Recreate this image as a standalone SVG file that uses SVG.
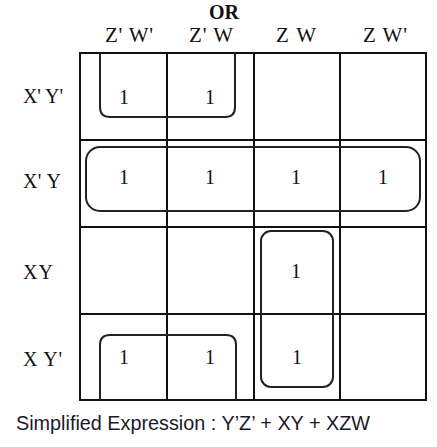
<svg xmlns="http://www.w3.org/2000/svg" width="437" height="447" viewBox="0 0 437 447">
<style>
.g{stroke:#111;stroke-width:2;fill:none}
.loop{stroke:#222;stroke-width:2;fill:none}
.h{font-family:"Liberation Serif",serif;font-size:21px;fill:#111;text-anchor:middle}
.r{font-family:"Liberation Serif",serif;font-size:20px;fill:#111}
.one{font-family:"Liberation Serif",serif;font-size:20px;fill:#111;text-anchor:middle}
</style>
<rect width="437" height="447" fill="#fff"/>
<g id="headers">
<text x="224" y="19" font-family="Liberation Serif,serif" font-weight="bold" font-size="20" text-anchor="middle" fill="#111">OR</text>
<text class="h" x="129" y="42" textLength="48" lengthAdjust="spacing">Z' W'</text>
<text class="h" x="211" y="42" textLength="44" lengthAdjust="spacing">Z' W</text>
<text class="h" x="296" y="42" textLength="40" lengthAdjust="spacing">Z W</text>
<text class="h" x="385" y="42" textLength="44" lengthAdjust="spacing">Z W'</text>
<text class="r" x="23" y="103" textLength="40" lengthAdjust="spacing">X' Y'</text>
<text class="r" x="23" y="188" textLength="38" lengthAdjust="spacing">X' Y</text>
<text class="r" x="23" y="279" textLength="30" lengthAdjust="spacing">X Y</text>
<text class="r" x="23" y="366" textLength="39" lengthAdjust="spacing">X Y'</text>
</g>
<g id="grid">
<rect class="g" x="80" y="53" width="346" height="347"/>
<line class="g" x1="167" y1="53" x2="167" y2="400"/>
<line class="g" x1="254" y1="53" x2="254" y2="400"/>
<line class="g" x1="340" y1="53" x2="340" y2="400"/>
<line class="g" x1="80" y1="140" x2="426" y2="140"/>
<line class="g" x1="80" y1="227" x2="426" y2="227"/>
<line class="g" x1="80" y1="314" x2="426" y2="314"/>
</g>
<g id="cells">
<text class="one" x="124" y="104">1</text>
<text class="one" x="210" y="104">1</text>
<text class="one" x="124" y="184">1</text>
<text class="one" x="210" y="184">1</text>
<text class="one" x="296" y="184">1</text>
<text class="one" x="383" y="184">1</text>
<text class="one" x="296" y="278">1</text>
<text class="one" x="124" y="364">1</text>
<text class="one" x="210" y="364">1</text>
<text class="one" x="297" y="364">1</text>
</g>
<g id="loops">
<path class="loop" d="M100 53 V107 Q100 117 110 117 H225 Q235 117 235 107 V53"/>
<rect class="loop" x="86" y="147" width="334" height="64" rx="14"/>
<rect class="loop" x="261" y="231" width="72" height="156" rx="10"/>
<path class="loop" d="M100 400 V345 Q100 335 110 335 H226 Q236 335 236 345 V400"/>
</g>
<text x="16" y="430" font-family="Liberation Sans,sans-serif" font-size="21" fill="#1a1a2a" textLength="354" lengthAdjust="spacingAndGlyphs">Simplified Expression : Y’Z’ + XY + XZW</text>
</svg>
